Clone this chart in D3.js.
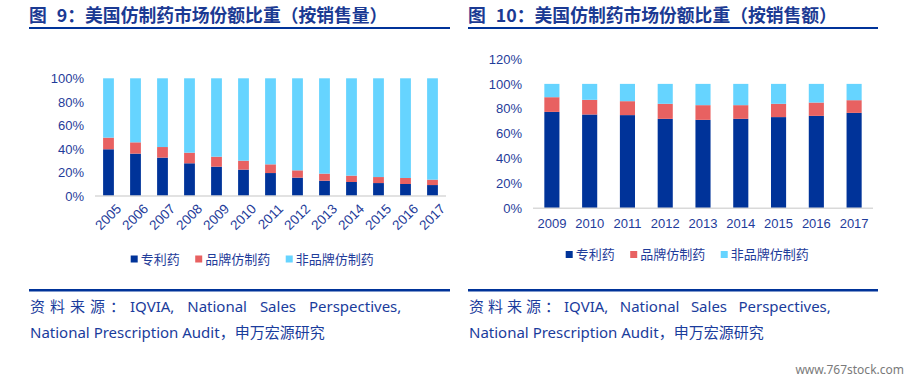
<!DOCTYPE html>
<html><head><meta charset="utf-8">
<script src="https://cdn.jsdelivr.net/npm/d3@7"></script>
<style>
html,body{margin:0;padding:0;background:#fff;}
svg{display:block;}
text{font-family:"Noto Sans","Noto Sans CJK SC",sans-serif;}
</style></head>
<body>
<svg id="c" width="914" height="382"></svg>
<script>
// ---- data ----
const seriesNames = ["专利药", "品牌仿制药", "非品牌仿制药"];
const volYears = ["2005","2006","2007","2008","2009","2010","2011","2012","2013","2014","2015","2016","2017"];
const volPatent = [39.7, 36.0, 32.6, 27.8, 24.9, 22.4, 19.5, 15.6, 13.0, 11.9, 11.0, 10.2, 9.3];
const volBrandGeneric = [9.9, 9.6, 9.0, 9.0, 8.5, 7.6, 7.4, 6.2, 6.0, 5.4, 5.1, 5.1, 4.6];
const volUnbranded = volPatent.map((d,i)=>+(100 - d - volBrandGeneric[i]).toFixed(1));
const salesYears = ["2009","2010","2011","2012","2013","2014","2015","2016","2017"];
const salesPatent = [77.5, 75.4, 74.9, 71.9, 71.1, 71.9, 73.3, 74.3, 76.7];
const salesBrandGeneric = [11.8, 11.8, 11.2, 12.1, 11.8, 11.0, 10.7, 10.7, 10.2];
const salesUnbranded = salesPatent.map((d,i)=>+(100 - d - salesBrandGeneric[i]).toFixed(1));
const volTicks = [0, 20, 40, 60, 80, 100];
const salesTicks = [0, 20, 40, 60, 80, 100, 120];
const titles = ["图 9：美国仿制药市场份额比重（按销售量）", "图 10：美国仿制药市场份额比重（按销售额）"];
const sourceWords = ["IQVIA,", "National", "Sales", "Perspectives,"];
const sourceLabel = "资料来源：";
const sourceLine2 = "National Prescription Audit，申万宏源研究";
const watermark = "www.767stock.com";

const colors = ["#003399", "#E86161", "#66D4FF"];
const textBlue = "#1f3c9a";
const ruleBlue = "#003399";

const svg = d3.select("#c");

function header(x0, x1, title) {
  svg.append("text").attr("x", x0).attr("y", 21.5).text(title)
    .attr("font-size", 17.8).attr("font-weight", 700).attr("fill", "#1b3a93")
    .attr("word-spacing", 6)
    .style("font-family", '"Noto Sans CJK SC",sans-serif');
  svg.append("rect").attr("x", x0).attr("y", 27).attr("width", x1 - x0).attr("height", 2).attr("fill", ruleBlue);
}
function footer(x0, x1, ls, ws) {
  svg.append("rect").attr("x", x0).attr("y", 289).attr("width", x1 - x0).attr("height", 2.5).attr("fill", ruleBlue);
  const t = svg.append("text").attr("x", x0 + 1).attr("y", 312).attr("font-size", 15).attr("fill", "#1a3c9c");
  t.append("tspan").text(sourceLabel).attr("letter-spacing", ls);
  t.append("tspan").text(sourceWords.join(" ")).attr("word-spacing", ws);
  svg.append("text").attr("x", x0 + 1).attr("y", 338).attr("font-size", 15).attr("fill", "#1a3c9c").text(sourceLine2);
}

function chart(cfg) {
  const g = svg.append("g");
  const x = d3.scaleBand().domain(cfg.years).range([cfg.x0, cfg.x1]).paddingInner(0.6).paddingOuter(0.3);
  const y = d3.scaleLinear().domain([0, cfg.max]).range([cfg.yb, cfg.yt]);
  const rows = cfg.years.map((yr, i) => ({year: yr, s0: cfg.s[0][i], s1: cfg.s[1][i], s2: cfg.s[2][i]}));
  const stack = d3.stack().keys(["s0","s1","s2"])(rows);
  stack.forEach((layer, k) => {
    g.selectAll(null).data(layer).join("rect")
      .attr("x", d => x(d.data.year))
      .attr("width", x.bandwidth())
      .attr("y", d => y(d[1]))
      .attr("height", d => y(d[0]) - y(d[1]))
      .attr("fill", colors[k]);
  });
  // y axis labels
  const ya = g.append("g").attr("transform", `translate(${cfg.x0 - 11},0)`)
    .call(d3.axisLeft(y).tickValues(cfg.ticks).tickSize(0).tickPadding(0).tickFormat(d => d + "%"));
  ya.select(".domain").remove();
  ya.selectAll("text").attr("font-size", 13).attr("fill", textBlue).style("font-family", '"Liberation Sans",Arial,sans-serif');
  // x axis
  const xa = g.append("g").attr("transform", `translate(0,${cfg.yb})`)
    .call(d3.axisBottom(x).tickSize(0).tickPadding(cfg.rot ? 6 : 10));
  xa.select(".domain").attr("stroke", "#d9d9d9").attr("stroke-width", 1.5)
    .attr("d", `M${cfg.x0},0H${cfg.x1}`);
  xa.selectAll("text").attr("font-size", cfg.rot ? 13.5 : 13).attr("fill", textBlue).style("font-family", '"Liberation Sans",Arial,sans-serif');
  if (cfg.rot) {
    xa.selectAll("text").attr("text-anchor", "end").attr("dy", "0.35em")
      .attr("transform", "translate(6,6) rotate(-45)");
  }
  // legend
  let lx = cfg.lx;
  seriesNames.forEach((n, k) => {
    svg.append("rect").attr("x", lx).attr("y", cfg.ly - 3.5).attr("width", 7).attr("height", 7).attr("fill", colors[k]);
    const t = svg.append("text").attr("x", lx + 10).attr("y", cfg.ly).attr("dy", "0.36em")
      .attr("font-size", 13).attr("fill", textBlue).text(n)
      .style("font-family", '"Noto Sans CJK SC",sans-serif');
    lx += 10 + t.node().getComputedTextLength() + 15.5;
  });
}

header(29, 450, titles[0]);
header(468, 878, titles[1]);

chart({years: volYears, s: [volPatent, volBrandGeneric, volUnbranded], max: 100, ticks: volTicks,
  x0: 95, x1: 446, yb: 196, yt: 78.3, rot: true, lx: 130.7, ly: 259});
chart({years: salesYears, s: [salesPatent, salesBrandGeneric, salesUnbranded], max: 120, ticks: salesTicks,
  x0: 533, x1: 873, yb: 208.3, yt: 59, rot: false, lx: 565.7, ly: 254.5});

footer(29, 450, 5, 9);
footer(468, 878, 4, 7.5);

svg.append("text").attr("x", 904).attr("y", 374).attr("text-anchor", "end")
  .attr("font-size", 12).attr("fill", "#7a7a7a").text(watermark);
</script>
</body></html>
